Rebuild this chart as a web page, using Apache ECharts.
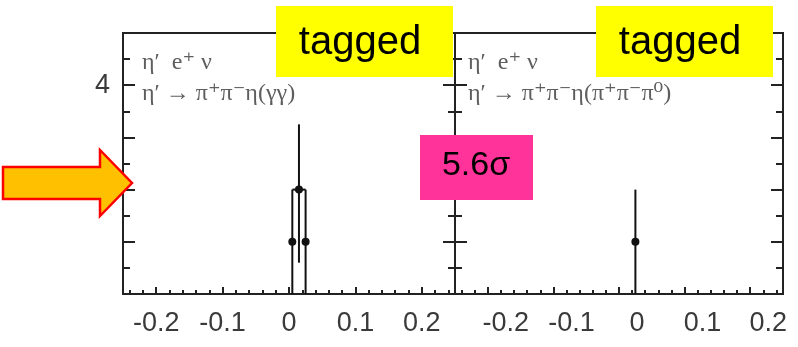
<!DOCTYPE html>
<html>
<head>
<meta charset="utf-8">
<script src="https://cdn.jsdelivr.net/npm/echarts@6/dist/echarts.min.js"></script>
<style>
html, body { margin: 0; padding: 0; background: #fff; }
#main { width: 798px; height: 347px; }
</style>
</head>
<body>
<div id="main"></div>
<script>
// tick labels
var xMajor = [-0.2, -0.1, 0, 0.1, 0.2];
var yLabels = [2, 4];
// left panel: eta' -> pi+ pi- eta(gamma gamma)
var leftX = [0.005, 0.015, 0.025];
var leftY = [1, 2, 1];
var leftLow = [0, 0.6, 0];
var leftHigh = [2, 3.25, 2];
var leftXErr = [0, 0.01, 0];
// right panel: eta' -> pi+ pi- eta(pi+ pi- pi0)
var rightX = [0.025];
var rightY = [1];
var rightLow = [0];
var rightHigh = [2];
var rightXErr = [0];

// minor ticks every 0.02 (not on the major ones)
var xMinor = [];
for (var i = -12; i <= 12; i++) {
    if (i % 5 !== 0) xMinor.push(Math.round(i * 2) / 100);
}

var axisColor = '#222';
var labelFont = 'Liberation Sans';

function buildPoints(xs, ys, lo, hi, xe) {
    var out = [];
    for (var i = 0; i < xs.length; i++) {
        out.push([xs[i], ys[i], lo[i], hi[i], xe[i]]);
    }
    return out;
}

function renderErr(params, api) {
    var x = api.value(0), y = api.value(1), dx = api.value(4);
    var p = api.coord([x, y]);
    var top = api.coord([x, api.value(3)]);
    var bot = api.coord([x, api.value(2)]);
    var st = { stroke: '#111', lineWidth: 2 };
    var kids = [
        { type: 'line', shape: { x1: top[0], y1: top[1], x2: bot[0], y2: bot[1] }, style: st },
        { type: 'circle', shape: { cx: p[0], cy: p[1], r: 4 }, style: { fill: '#111' } }
    ];
    if (dx > 0) {
        var l = api.coord([x - dx, y]);
        var r = api.coord([x + dx, y]);
        kids.push({ type: 'line', shape: { x1: l[0], y1: l[1], x2: r[0], y2: r[1] }, style: st });
    }
    return { type: 'group', children: kids };
}

function mainX(grid, pad) {
    return {
        gridIndex: grid, type: 'value', min: -0.25, max: 0.25, position: 'bottom',
        axisLine: { show: false, onZero: false }, splitLine: { show: false },
        axisTick: { inside: true, length: 7, customValues: xMajor, lineStyle: { color: axisColor, width: 2 } },
        axisLabel: {
            customValues: xMajor, margin: 16, fontSize: 27, color: '#3a3a3a', fontFamily: labelFont,
            padding: pad,
            formatter: function (v) { return String(v); }
        }
    };
}

function minorX(grid) {
    return {
        gridIndex: grid, type: 'value', min: -0.25, max: 0.25, position: 'bottom',
        axisLine: { show: false, onZero: false }, splitLine: { show: false }, axisLabel: { show: false },
        axisTick: { inside: true, length: 4, customValues: xMinor, lineStyle: { color: axisColor, width: 2 } }
    };
}

function yAx(grid, pos, labels) {
    return {
        gridIndex: grid, type: 'value', min: 0, max: 5, interval: 1, position: pos,
        axisLine: { show: false, onZero: false }, splitLine: { show: false },
        axisTick: { inside: true, length: 12, lineStyle: { color: axisColor, width: 2 } },
        minorTick: { show: true, splitNumber: 2, length: 7, lineStyle: { color: axisColor, width: 2 } },
        axisLabel: {
            show: labels, margin: 13, fontSize: 27, color: '#3a3a3a', fontFamily: labelFont,
            formatter: function (v) { return yLabels.indexOf(v) >= 0 ? String(v) : ''; }
        }
    };
}

function tagBox(x) {
    return [
        { type: 'rect', left: x, top: 6, shape: { width: 177, height: 71 }, style: { fill: '#ffff00' }, z: 100 },
        { type: 'text', x: x + 84, y: 43, z: 101,
          style: { text: 'tagged', fill: '#000', font: '40px "Liberation Sans"', textAlign: 'center', textVerticalAlign: 'middle' } }
    ];
}

function formula(x, l1, l2) {
    var f = '24px "Liberation Serif", "DejaVu Serif"';
    return [
        { type: 'text', x: x, y: 63, z: 50, style: { text: l1, fill: '#5e5e5e', font: f, textVerticalAlign: 'middle' } },
        { type: 'text', x: x, y: 94, z: 50, style: { text: l2, fill: '#5e5e5e', font: f, textVerticalAlign: 'middle' } }
    ];
}

var myChart = echarts.init(document.getElementById('main'));
var graphics = [].concat(
    formula(142, 'η′  e⁺ ν', 'η′ → π⁺π⁻η(γγ)'),
    formula(468, 'η′  e⁺ ν', 'η′ → π⁺π⁻η(π⁺π⁻π⁰)'),
    tagBox(276),
    tagBox(596),
    [
        { type: 'rect', left: 420, top: 135, shape: { width: 113, height: 65 }, style: { fill: '#ff3399' }, z: 100 },
        { type: 'text', x: 476, y: 166, z: 101,
          style: { text: '5.6σ', fill: '#000', font: '34px "Liberation Sans"', textAlign: 'center', textVerticalAlign: 'middle' } },
        { type: 'polygon', z: 100,
          shape: { points: [[3, 167], [100, 167], [100, 150], [132, 183], [100, 216], [100, 199], [3, 199]] },
          style: { fill: '#ffc000', stroke: '#ff0000', lineWidth: 2.5, lineJoin: 'miter' } }
    ]
);

var option = {
    backgroundColor: '#fff',
    animation: false,
    grid: [
        { left: 123, top: 33, width: 332, height: 261, show: true, borderColor: axisColor, borderWidth: 2, backgroundColor: 'transparent' },
        { left: 455, top: 33, width: 328, height: 261, show: true, borderColor: axisColor, borderWidth: 2, backgroundColor: 'transparent' }
    ],
    xAxis: [mainX(0, 0), minorX(0), mainX(1, [0, 0, 0, 36]), minorX(1)],
    yAxis: [yAx(0, 'left', true), yAx(0, 'right', false), yAx(1, 'left', false), yAx(1, 'right', false)],
    series: [
        {
            type: 'custom', xAxisIndex: 0, yAxisIndex: 0, clip: false,
            renderItem: renderErr, encode: { x: 0, y: 1 },
            data: buildPoints(leftX, leftY, leftLow, leftHigh, leftXErr)
        },
        {
            type: 'custom', xAxisIndex: 2, yAxisIndex: 2, clip: false,
            renderItem: renderErr, encode: { x: 0, y: 1 },
            data: buildPoints(rightX, rightY, rightLow, rightHigh, rightXErr)
        }
    ],
    graphic: graphics
};
myChart.setOption(option);
</script>
</body>
</html>
